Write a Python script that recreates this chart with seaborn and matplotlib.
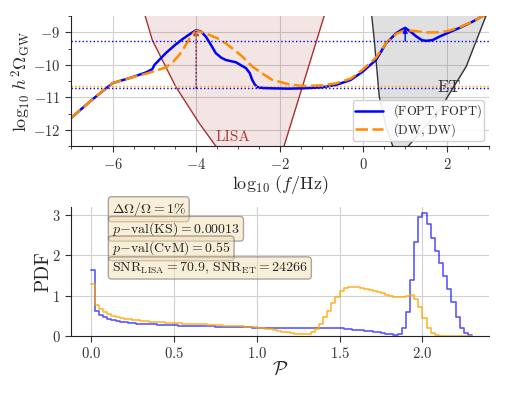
import matplotlib
matplotlib.use("Agg")
from matplotlib import pyplot as plt
from matplotlib.ticker import MultipleLocator, FormatStrFormatter
import seaborn as sns
import pandas as pd
import numpy as np

# --- spectra (log10 f, log10 h^2 Omega)
fopt_logf = [-7.0, -6.5, -6.0, -5.53, -5.2, -5.05, -5.0, -4.73, -4.5, -4.33, -4.15, -4.0,
             -3.88, -3.77, -3.65, -3.53, -3.4, -3.29, -3.05, -2.81, -2.72, -2.66, -2.6, -2.54,
             -2.4, -2.18, -1.8, -1.46, -1.0, -0.66, -0.3, -0.02, 0.3, 0.54, 0.78, 0.9, 1.0,
             1.13, 1.26, 1.4, 1.5, 1.65, 1.82, 2.05, 2.3, 2.6, 2.86, 3.0]
fopt_omega = [-11.64, -11.08, -10.56, -10.38, -10.23, -10.13, -10.0, -9.64, -9.38, -9.21, -9.05, -8.93,
              -8.98, -9.13, -9.38, -9.64, -9.78, -9.85, -9.92, -10.1, -10.25, -10.46, -10.6, -10.68,
              -10.71, -10.72, -10.73, -10.72, -10.69, -10.62, -10.46, -10.21, -9.85, -9.34, -9.03, -8.93, -8.86,
              -8.98, -9.12, -9.24, -9.26, -9.24, -9.13, -9.0, -8.86, -8.68, -8.49, -8.42]

dw_logf = [-7.0, -6.5, -6.0, -5.53, -5.2, -5.05, -4.9, -4.73, -4.55, -4.41, -4.28, -4.17, -4.08, -4.0,
           -3.77, -3.5, -3.29, -3.1, -2.89, -2.66, -2.4, -2.18, -1.8, -1.46, -1.0, -0.66, -0.3,
           -0.02, 0.3, 0.54, 0.78, 1.0, 1.25, 1.5, 1.82, 2.05, 2.3, 2.6, 2.86, 3.0]
dw_omega = [-11.64, -11.08, -10.56, -10.38, -10.27, -10.21, -10.15, -10.08, -9.9, -9.7, -9.45, -9.21, -9.05, -8.95,
            -9.03, -9.18, -9.34, -9.53, -9.75, -10.05, -10.28, -10.46, -10.59, -10.65, -10.63, -10.57, -10.42,
            -10.15, -9.78, -9.34, -9.05, -8.93, -8.96, -9.0, -9.0, -8.95, -8.84, -8.68, -8.49, -8.42]

# detector sensitivity curves
lisa_logf = [-5.4, -5.22, -5.05, -4.49, -3.93, -3.53, -3.1, -2.7, -2.3, -1.9, -1.46, -0.94, -0.8]
lisa_omega = [-8.0, -8.5, -9.24, -10.67, -11.79, -12.5, -13.0, -13.1, -13.0, -12.5, -10.67, -8.5, -7.9]
et_logf = [0.15, 0.2, 0.26, 0.38, 0.54, 0.7, 0.9, 1.08, 1.82, 2.46, 2.93, 3.1]
et_omega = [-7.9, -8.5, -9.24, -10.98, -11.9, -12.49, -12.75, -12.49, -11.38, -10.05, -8.5, -8.1]

# reference levels
fopt_peak_lisa = -8.93
fopt_peak_et = -8.86
dw_peak_lisa = -8.95
fopt_level_hi = -9.27
fopt_level_lo = -10.72
dw_level_lo = -10.64

# --- PDF of P, bins of width 0.025 from 0 to 2.3
bin_width = 0.025
pdf_fopt = [1.63, 0.63, 0.52, 0.46, 0.42, 0.39, 0.37, 0.35, 0.34, 0.33,
            0.32, 0.31, 0.30, 0.30, 0.29, 0.29, 0.28, 0.28, 0.27, 0.27,
            0.27, 0.26, 0.26, 0.26, 0.25, 0.25, 0.25, 0.24, 0.24, 0.24,
            0.23, 0.23, 0.23, 0.23, 0.22, 0.22, 0.22, 0.22, 0.22, 0.21,
            0.21, 0.21, 0.21, 0.21, 0.21, 0.21, 0.21, 0.21, 0.21, 0.21,
            0.21, 0.21, 0.21, 0.21, 0.20, 0.20, 0.20, 0.20, 0.19, 0.19,
            0.19, 0.18, 0.17, 0.16, 0.15, 0.14, 0.13, 0.12, 0.11, 0.10,
            0.08, 0.06, 0.04, 0.02, 0.06, 0.21, 0.60, 1.40, 2.33, 2.95,
            3.05, 2.77, 2.44, 2.11, 1.81, 1.49, 1.16, 0.85, 0.48, 0.21,
            0.07, 0.02]
pdf_dw = [1.28, 0.76, 0.66, 0.59, 0.54, 0.50, 0.47, 0.45, 0.43, 0.41,
          0.40, 0.39, 0.38, 0.37, 0.36, 0.35, 0.34, 0.34, 0.33, 0.33,
          0.32, 0.32, 0.31, 0.31, 0.30, 0.30, 0.29, 0.29, 0.28, 0.28,
          0.27, 0.27, 0.26, 0.26, 0.25, 0.25, 0.24, 0.23, 0.23, 0.22,
          0.21, 0.20, 0.18, 0.17, 0.15, 0.13, 0.11, 0.09, 0.07, 0.05,
          0.04, 0.04, 0.04, 0.09, 0.18, 0.30, 0.46, 0.62, 0.81, 0.97,
          1.11, 1.18, 1.21, 1.22, 1.21, 1.19, 1.17, 1.15, 1.12, 1.09,
          1.06, 1.03, 1.00, 0.98, 0.97, 0.98, 1.00, 1.01, 0.92, 0.72,
          0.45, 0.20, 0.07, 0.03, 0.01, 0.0, 0.0, 0.0, 0.0, 0.0,
          0.0, 0.0]

info_lines = [r"$\Delta\Omega/\Omega = 1\%$",
              r"$p\mathrm{-val(KS)} = 0.00013$",
              r"$p\mathrm{-val(CvM)} = 0.55$",
              r"$\mathrm{SNR}_{\mathrm{LISA}} = 70.9,\,\mathrm{SNR}_{\mathrm{ET}} = 24266$"]

sns.set_style("ticks", {"axes.grid": True, "grid.color": "#d0d0d0"})
plt.rcParams.update({
    "font.family": "serif",
    "font.serif": ["cmr10", "DejaVu Serif"],
    "mathtext.fontset": "cm",
    "axes.formatter.use_mathtext": True,
    "axes.unicode_minus": True,
    "xtick.labelsize": 10.5,
    "ytick.labelsize": 10.5,
    "xtick.color": "#333333",
    "ytick.color": "#333333",
    "axes.labelsize": 13,
    "axes.edgecolor": "#222222",
})

fig = plt.figure(figsize=(5.06, 3.93), dpi=100)
ax1 = fig.add_axes([0.140, 0.628, 0.826, 0.331])
ax2 = fig.add_axes([0.140, 0.145, 0.826, 0.328])

# ---------- top panel
ax1.fill_between(lisa_logf, lisa_omega, -5, color="brown", alpha=0.12, lw=0)
ax1.plot(lisa_logf, lisa_omega, color="#a83232", lw=1)
ax1.fill_between(et_logf, et_omega, -5, color="gray", alpha=0.24, lw=0)
ax1.plot(et_logf, et_omega, color="#333333", lw=1)

spec = pd.DataFrame({"logf": fopt_logf, "omega": fopt_omega})
spec_dw = pd.DataFrame({"logf": dw_logf, "omega": dw_omega})
sns.lineplot(data=spec, x="logf", y="omega", color="blue", lw=1.8, ax=ax1,
             label=r"$(\mathrm{FOPT},\,\mathrm{FOPT})$")
sns.lineplot(data=spec_dw, x="logf", y="omega", color="darkorange", lw=1.8, ax=ax1,
             linestyle=(0, (5.0, 1.8)), label=r"$(\mathrm{DW},\,\mathrm{DW})$")

ax1.axhline(fopt_level_hi, color="blue", ls=":", lw=1)
ax1.axhline(dw_level_lo, color="orange", ls=":", lw=1)
ax1.axhline(fopt_level_lo, color="blue", ls=":", lw=1)
ax1.annotate("", xy=(-4, fopt_peak_lisa), xytext=(-4, fopt_level_lo),
             arrowprops=dict(arrowstyle="-|>", color="blue", ls=":", lw=1, mutation_scale=7,
                             shrinkA=0, shrinkB=0))
ax1.annotate("", xy=(-4, dw_peak_lisa), xytext=(-4, dw_level_lo),
             arrowprops=dict(arrowstyle="-|>", color="darkorange", alpha=0.6, ls="--", lw=1,
                             mutation_scale=7, shrinkA=0, shrinkB=0))
ax1.annotate("", xy=(1, fopt_peak_et), xytext=(1, fopt_level_hi),
             arrowprops=dict(arrowstyle="-|>", color="blue", lw=1, mutation_scale=7,
                             shrinkA=0, shrinkB=0))

ax1.text(-3.12, -12.22, "LISA", color="#b03a3a", fontsize=11, ha="center", va="center")
ax1.text(2.05, -10.68, "ET", color="#333333", fontsize=12, ha="center", va="center")

ax1.set_xlim(-7, 3)
ax1.set_ylim(-12.5, -8.5)
ax1.xaxis.set_major_locator(MultipleLocator(2))
ax1.xaxis.set_minor_locator(MultipleLocator(0.5))
ax1.yaxis.set_major_locator(MultipleLocator(1))
ax1.yaxis.set_minor_locator(MultipleLocator(0.5))
ax1.tick_params(which="minor", length=2)
ax1.tick_params(which="major", length=4)
ax1.grid(which="minor", visible=False)
ax1.set_xlabel(r"$\log_{10}\,(f/\mathrm{Hz})$", labelpad=1)
ax1.set_ylabel(r"$\log_{10}\,h^2\Omega_{\mathrm{GW}}$")
ax1.yaxis.set_label_coords(-0.091, 0.5)
ax1.legend(loc="lower right", fontsize=9, framealpha=0.9, borderpad=0.2,
           handlelength=2.2, labelspacing=0.05, borderaxespad=0.4)
sns.despine(ax=ax1)

# ---------- bottom panel
edges = list(np.round(np.arange(len(pdf_fopt) + 1) * bin_width, 4))
centers = [e + bin_width / 2 for e in edges[:-1]]
hist = pd.DataFrame({"P": centers + centers,
                     "pdf": pdf_fopt + pdf_dw,
                     "pair": ["FOPT"] * len(pdf_fopt) + ["DW"] * len(pdf_dw)})
sns.histplot(data=hist[hist["pair"] == "FOPT"], x="P", weights="pdf", bins=edges,
             element="step", fill=False, color="blue", alpha=0.65, lw=1.2, ax=ax2)
sns.histplot(data=hist[hist["pair"] == "DW"], x="P", weights="pdf", bins=edges,
             element="step", fill=False, color="orange", alpha=0.8, lw=1.2, ax=ax2)

box = dict(boxstyle="round,pad=0.25", facecolor="wheat", alpha=0.5, edgecolor="#555555")
for i, txt in enumerate(info_lines):
    ax2.text(0.098, 0.984 - i * 0.152, txt, transform=ax2.transAxes, fontsize=10,
             ha="left", va="center", bbox=box)

ax2.set_xlim(-0.12, 2.4)
ax2.set_ylim(0, 3.2)
ax2.xaxis.set_major_locator(MultipleLocator(0.5))
ax2.yaxis.set_major_locator(MultipleLocator(1))
ax2.xaxis.set_major_formatter(FormatStrFormatter(r"$%.1f$"))
ax2.tick_params(which="major", length=4)
ax2.set_xlabel(r"$\mathcal{P}$", fontsize=14, labelpad=0)
ax2.set_ylabel("PDF", fontsize=14)
ax2.yaxis.set_label_coords(-0.045, 0.5)
sns.despine(ax=ax2)

fig.savefig("out.png", dpi=100)
